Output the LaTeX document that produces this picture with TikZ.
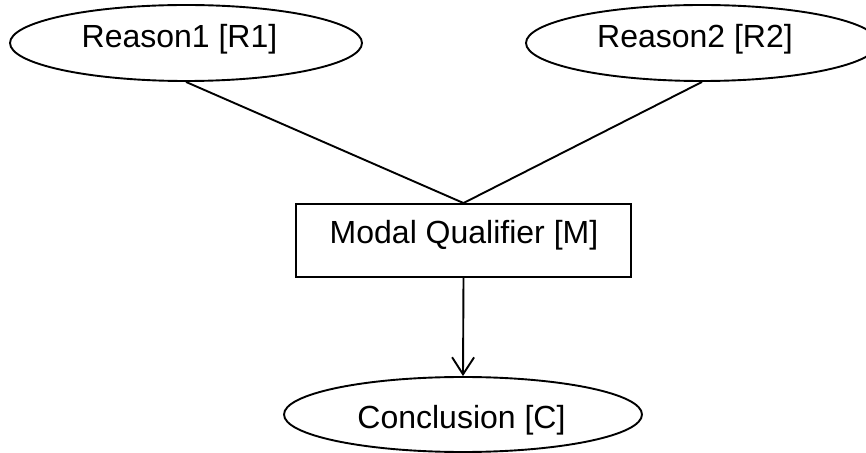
\documentclass[tikz,border=0pt]{standalone}
\usepackage{fontspec}
\setmainfont{Liberation Sans}
\usetikzlibrary{shapes.geometric,arrows.meta}
\tikzset{
  oval/.style={ellipse, draw, line width=1.9bp, inner sep=0pt,
               minimum width=352bp, minimum height=76bp},
  qbox/.style={rectangle, draw, line width=1.9bp, inner sep=0pt,
               minimum width=335bp, minimum height=73bp},
  lbl/.style={anchor=base, inner sep=0pt, font=\fontsize{32bp}{37bp}\selectfont},
  link/.style={line width=1.9bp},
  arr/.style={line width=1.9bp, -{Straight Barb[length=17bp,width=22bp,line width=1.9bp]}}
}
\begin{document}
\begin{tikzpicture}[x=1bp,y=-1bp]
  \useasboundingbox (0,0) rectangle (866,453);
  \clip (0,0) rectangle (866,453);
  % shapes
  \node[oval] (r1) at (186,43) {};
  \node[oval] (r2) at (702,43) {};
  \node[qbox] (m) at (463.5,240.5) {};
  \node[oval, minimum width=358bp, minimum height=75bp] (c) at (463,414.5) {};
  % labels
  \node[lbl] (r1t) at (179.5,48) {Reason1 [R1]};
  \node[lbl] (r2t) at (695,48) {Reason2 [R2]};
  \node[lbl] (mt) at (464,244) {Modal Qualifier [M]};
  \node[lbl] (ct) at (461.5,428) {Conclusion [C]};
  % connectors
  \draw[link] (r1.south) -- (m.north);
  \draw[link] (r2.south) -- (m.north);
  \draw[arr] (m.south) -- (c.north);
\end{tikzpicture}
\end{document}
